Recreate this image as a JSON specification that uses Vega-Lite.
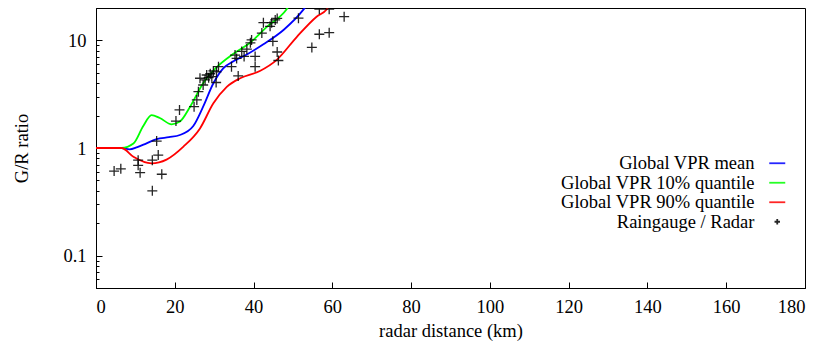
{
  "$schema": "https://vega.github.io/schema/vega-lite/v6.json",
  "width": 709,
  "height": 280,
  "autosize": {"type": "none"},
  "padding": {"left": 96, "top": 8, "right": 24, "bottom": 58},
  "background": "white",
  "config": {
    "view": {"stroke": "#000000", "strokeWidth": 1},
    "font": "Liberation Serif",
    "axis": {
      "grid": false,
      "domainColor": "#000000",
      "tickColor": "#000000",
      "labelColor": "#000000",
      "titleColor": "#000000",
      "labelFont": "Liberation Serif",
      "titleFont": "Liberation Serif",
      "labelFontSize": 18.5,
      "titleFontSize": 18.5,
      "titleFontWeight": "normal",
      "labelOverlap": false,
      "labelBound": false
    },
    "legend": {
      "labelFont": "Liberation Serif"
    }
  },
  "datasets": {
    "lines": [
      {"series": "Global VPR mean", "dist": 0, "ratio": 1},
      {"series": "Global VPR mean", "dist": 6.5, "ratio": 1},
      {"series": "Global VPR mean", "dist": 8.5, "ratio": 0.97},
      {"series": "Global VPR mean", "dist": 10.5, "ratio": 1.02},
      {"series": "Global VPR mean", "dist": 12.7, "ratio": 1.1},
      {"series": "Global VPR mean", "dist": 15.4, "ratio": 1.21},
      {"series": "Global VPR mean", "dist": 18.5, "ratio": 1.26},
      {"series": "Global VPR mean", "dist": 21.3, "ratio": 1.32},
      {"series": "Global VPR mean", "dist": 24.7, "ratio": 1.6},
      {"series": "Global VPR mean", "dist": 27.2, "ratio": 2.42},
      {"series": "Global VPR mean", "dist": 29.8, "ratio": 4.0},
      {"series": "Global VPR mean", "dist": 32.3, "ratio": 5.5},
      {"series": "Global VPR mean", "dist": 34.9, "ratio": 6.4},
      {"series": "Global VPR mean", "dist": 38.3, "ratio": 7.4},
      {"series": "Global VPR mean", "dist": 42.5, "ratio": 9.2},
      {"series": "Global VPR mean", "dist": 47.6, "ratio": 12.5},
      {"series": "Global VPR mean", "dist": 52.6, "ratio": 19.2},
      {"series": "Global VPR mean", "dist": 53.4, "ratio": 21},
      {"series": "Global VPR 10% quantile", "dist": 0, "ratio": 1},
      {"series": "Global VPR 10% quantile", "dist": 6.5, "ratio": 1},
      {"series": "Global VPR 10% quantile", "dist": 9.5, "ratio": 1.1},
      {"series": "Global VPR 10% quantile", "dist": 12, "ratio": 1.6},
      {"series": "Global VPR 10% quantile", "dist": 14.1, "ratio": 2.02},
      {"series": "Global VPR 10% quantile", "dist": 16.2, "ratio": 1.9},
      {"series": "Global VPR 10% quantile", "dist": 19.2, "ratio": 1.66},
      {"series": "Global VPR 10% quantile", "dist": 21.3, "ratio": 1.76},
      {"series": "Global VPR 10% quantile", "dist": 23.9, "ratio": 2.42},
      {"series": "Global VPR 10% quantile", "dist": 27.2, "ratio": 4.0},
      {"series": "Global VPR 10% quantile", "dist": 30.6, "ratio": 5.6},
      {"series": "Global VPR 10% quantile", "dist": 34.9, "ratio": 7.5},
      {"series": "Global VPR 10% quantile", "dist": 39.1, "ratio": 9.5},
      {"series": "Global VPR 10% quantile", "dist": 43.3, "ratio": 13.3},
      {"series": "Global VPR 10% quantile", "dist": 48.4, "ratio": 19.5},
      {"series": "Global VPR 10% quantile", "dist": 49, "ratio": 21},
      {"series": "Global VPR 90% quantile", "dist": 0, "ratio": 1},
      {"series": "Global VPR 90% quantile", "dist": 6.5, "ratio": 1},
      {"series": "Global VPR 90% quantile", "dist": 9.5, "ratio": 0.83},
      {"series": "Global VPR 90% quantile", "dist": 14.1, "ratio": 0.72},
      {"series": "Global VPR 90% quantile", "dist": 17.9, "ratio": 0.78},
      {"series": "Global VPR 90% quantile", "dist": 22.2, "ratio": 1.03},
      {"series": "Global VPR 90% quantile", "dist": 26.4, "ratio": 1.52},
      {"series": "Global VPR 90% quantile", "dist": 29.8, "ratio": 2.6},
      {"series": "Global VPR 90% quantile", "dist": 33.2, "ratio": 3.7},
      {"series": "Global VPR 90% quantile", "dist": 36.6, "ratio": 4.45},
      {"series": "Global VPR 90% quantile", "dist": 41.6, "ratio": 5.2},
      {"series": "Global VPR 90% quantile", "dist": 45.9, "ratio": 6.6},
      {"series": "Global VPR 90% quantile", "dist": 51, "ratio": 10.8},
      {"series": "Global VPR 90% quantile", "dist": 56, "ratio": 16.6},
      {"series": "Global VPR 90% quantile", "dist": 58.6, "ratio": 19.5},
      {"series": "Global VPR 90% quantile", "dist": 59.2, "ratio": 21}
    ],
    "pts": [
      {"series": "Raingauge / Radar", "dist": 4.6, "ratio": 0.61},
      {"series": "Raingauge / Radar", "dist": 6.3, "ratio": 0.64},
      {"series": "Raingauge / Radar", "dist": 10.7, "ratio": 0.77},
      {"series": "Raingauge / Radar", "dist": 10.7, "ratio": 0.69},
      {"series": "Raingauge / Radar", "dist": 11.2, "ratio": 0.59},
      {"series": "Raingauge / Radar", "dist": 14.3, "ratio": 0.77},
      {"series": "Raingauge / Radar", "dist": 15.8, "ratio": 0.86},
      {"series": "Raingauge / Radar", "dist": 15.4, "ratio": 1.16},
      {"series": "Raingauge / Radar", "dist": 14.3, "ratio": 0.4},
      {"series": "Raingauge / Radar", "dist": 16.7, "ratio": 0.57},
      {"series": "Raingauge / Radar", "dist": 20.3, "ratio": 1.78},
      {"series": "Raingauge / Radar", "dist": 21.2, "ratio": 2.26},
      {"series": "Raingauge / Radar", "dist": 24.9, "ratio": 2.42},
      {"series": "Raingauge / Radar", "dist": 25.6, "ratio": 2.8},
      {"series": "Raingauge / Radar", "dist": 26.0, "ratio": 3.34},
      {"series": "Raingauge / Radar", "dist": 26.4, "ratio": 4.45},
      {"series": "Raingauge / Radar", "dist": 27.2, "ratio": 3.85},
      {"series": "Raingauge / Radar", "dist": 27.7, "ratio": 4.3},
      {"series": "Raingauge / Radar", "dist": 28.1, "ratio": 4.77},
      {"series": "Raingauge / Radar", "dist": 28.6, "ratio": 4.5},
      {"series": "Raingauge / Radar", "dist": 29.0, "ratio": 4.9},
      {"series": "Raingauge / Radar", "dist": 29.4, "ratio": 4.6},
      {"series": "Raingauge / Radar", "dist": 29.8, "ratio": 5.2},
      {"series": "Raingauge / Radar", "dist": 30.5, "ratio": 4.06},
      {"series": "Raingauge / Radar", "dist": 30.6, "ratio": 5.1},
      {"series": "Raingauge / Radar", "dist": 31.1, "ratio": 5.7},
      {"series": "Raingauge / Radar", "dist": 34.4, "ratio": 5.7},
      {"series": "Raingauge / Radar", "dist": 35.3, "ratio": 7.3},
      {"series": "Raingauge / Radar", "dist": 35.7, "ratio": 6.8},
      {"series": "Raingauge / Radar", "dist": 36.1, "ratio": 4.68},
      {"series": "Raingauge / Radar", "dist": 37.0, "ratio": 7.9},
      {"series": "Raingauge / Radar", "dist": 37.6, "ratio": 7.1},
      {"series": "Raingauge / Radar", "dist": 38.3, "ratio": 8.3},
      {"series": "Raingauge / Radar", "dist": 39.5, "ratio": 10.1},
      {"series": "Raingauge / Radar", "dist": 39.2, "ratio": 9.5},
      {"series": "Raingauge / Radar", "dist": 40.4, "ratio": 7.1},
      {"series": "Raingauge / Radar", "dist": 40.4, "ratio": 5.7},
      {"series": "Raingauge / Radar", "dist": 42.1, "ratio": 11.7},
      {"series": "Raingauge / Radar", "dist": 42.5, "ratio": 14.6},
      {"series": "Raingauge / Radar", "dist": 44.2, "ratio": 13.5},
      {"series": "Raingauge / Radar", "dist": 44.6, "ratio": 14.6},
      {"series": "Raingauge / Radar", "dist": 44.9, "ratio": 9.8},
      {"series": "Raingauge / Radar", "dist": 45.5, "ratio": 15.5},
      {"series": "Raingauge / Radar", "dist": 46.0, "ratio": 16.0},
      {"series": "Raingauge / Radar", "dist": 46.0, "ratio": 7.8},
      {"series": "Raingauge / Radar", "dist": 46.3, "ratio": 6.5},
      {"series": "Raingauge / Radar", "dist": 51.4, "ratio": 16.1},
      {"series": "Raingauge / Radar", "dist": 54.8, "ratio": 8.6},
      {"series": "Raingauge / Radar", "dist": 56.7, "ratio": 19.5},
      {"series": "Raingauge / Radar", "dist": 56.7, "ratio": 11.4},
      {"series": "Raingauge / Radar", "dist": 59.2, "ratio": 19.5},
      {"series": "Raingauge / Radar", "dist": 59.2, "ratio": 11.8},
      {"series": "Raingauge / Radar", "dist": 63.0, "ratio": 16.6}
    ]
  },
  "encoding": {
    "x": {
      "field": "dist",
      "type": "quantitative",
      "scale": {"domain": [0, 180], "nice": false, "zero": false},
      "axis": {
        "title": "radar distance (km)",
        "values": [0, 20, 40, 60, 80, 100, 120, 140, 160, 180],
        "tickSize": -6,
        "labelPadding": 15,
        "titlePadding": 6,
        "labelFont": "Liberation Serif",
        "titleFont": "Liberation Serif"
      }
    },
    "y": {
      "field": "ratio",
      "type": "quantitative",
      "scale": {"type": "log", "domain": [0.05, 20], "nice": false, "zero": false},
      "axis": {
        "title": "G/R ratio",
        "values": [0.05, 0.06, 0.07, 0.08, 0.09, 0.1, 0.2, 0.3, 0.4, 0.5, 0.6, 0.7, 0.8, 0.9, 1, 2, 3, 4, 5, 6, 7, 8, 9, 10, 20],
        "labelExpr": "datum.value == 0.1 ? '0.1' : datum.value == 1 ? '1' : datum.value == 10 ? '10' : ''",
        "tickSize": {"condition": {"test": "datum.value == 0.1 || datum.value == 1 || datum.value == 10", "value": -6}, "value": -3},
        "labelPadding": 16,
        "titlePadding": 31,
        "labelFont": "Liberation Serif",
        "titleFont": "Liberation Serif"
      }
    }
  },
  "layer": [
    {
      "data": {"name": "lines"},
      "mark": {"type": "line", "interpolate": "monotone", "strokeWidth": 1.8, "clip": true},
      "encoding": {
        "color": {
          "field": "series",
          "type": "nominal",
          "scale": {
            "domain": ["Global VPR mean", "Global VPR 10% quantile", "Global VPR 90% quantile", "Raingauge / Radar"],
            "range": ["#0000ff", "#00ff00", "#ff0000", "#000000"]
          },
          "legend": {
            "title": null,
            "orient": "none",
            "legendX": 672,
            "legendY": 146,
            "padding": 0,
            "labelAlign": "right",
            "labelOffset": -32,
            "labelFont": "Liberation Serif",
            "labelFontSize": 18.5,
            "labelColor": "#000000",
            "labelLimit": 400,
            "symbolSize": 256,
            "symbolStrokeWidth": 1.8,
            "rowPadding": 0.5
          }
        }
      }
    },
    {
      "data": {"name": "pts"},
      "mark": {"type": "point", "size": 865, "strokeWidth": 1.3, "opacity": 0.85, "clip": true},
      "encoding": {
        "color": {"field": "series", "type": "nominal"},
        "shape": {
          "field": "series",
          "type": "nominal",
          "scale": {
            "domain": ["Global VPR mean", "Global VPR 10% quantile", "Global VPR 90% quantile", "Raingauge / Radar"],
            "range": ["stroke", "stroke", "stroke", "M-0.34,0L0.34,0M0,-0.34L0,0.34"]
          },
          "legend": {
            "title": null,
            "orient": "none",
            "legendX": 672,
            "legendY": 146,
            "padding": 0,
            "labelAlign": "right",
            "labelOffset": -32,
            "labelFont": "Liberation Serif",
            "labelFontSize": 18.5,
            "labelColor": "#000000",
            "labelLimit": 400,
            "symbolSize": 256,
            "symbolStrokeWidth": 1.8,
            "rowPadding": 0.5
          }
        }
      }
    }
  ]
}
